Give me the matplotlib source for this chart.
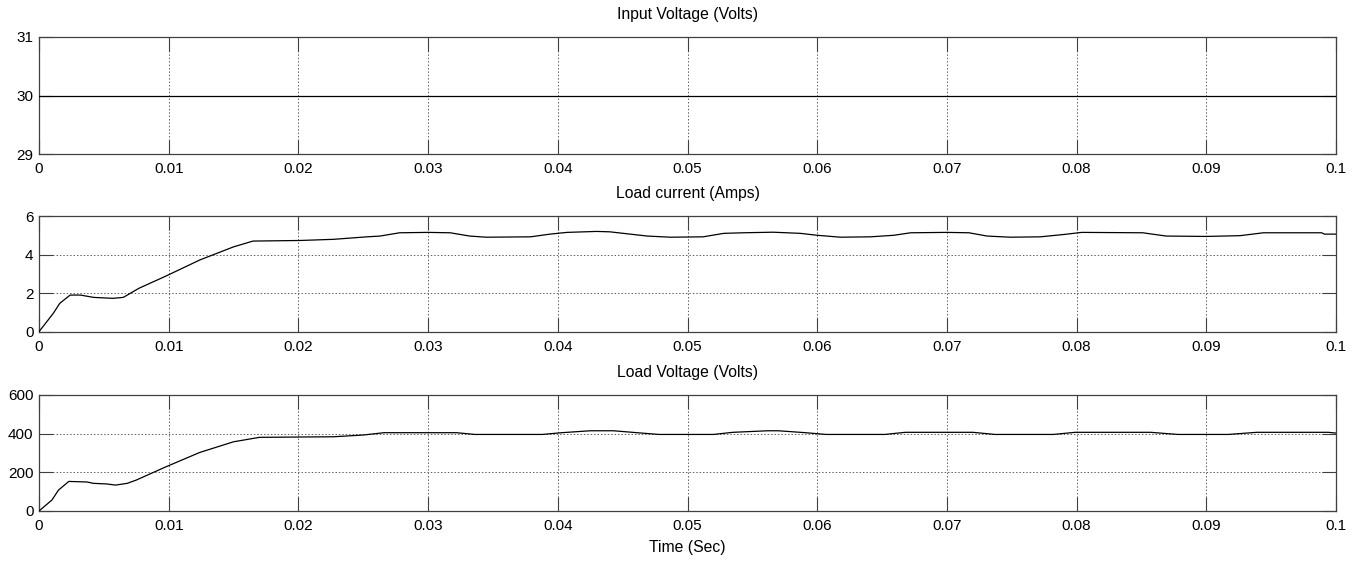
import numpy as np
import matplotlib.pyplot as plt

plt.rcParams['font.family'] = ['Liberation Sans', 'DejaVu Sans']
plt.rcParams['font.size'] = 10

# input voltage (constant)
t_in = [0.0, 0.1]
v_in = [30, 30]

# load current (A)
t_i = [0.0, 0.0011, 0.0016, 0.0024, 0.0032, 0.0042, 0.0057, 0.0065, 0.0077, 0.0098,
       0.0124, 0.0150, 0.0165, 0.0201, 0.0227, 0.0253, 0.0263, 0.0278, 0.0300, 0.0317,
       0.0332, 0.0345, 0.0379, 0.0394, 0.0407, 0.0430, 0.0440, 0.0469, 0.0487, 0.0512,
       0.0528, 0.0543, 0.0566, 0.0587, 0.0600, 0.0618, 0.0641, 0.0659, 0.0672, 0.0700,
       0.0717, 0.0731, 0.0749, 0.0772, 0.0790, 0.0804, 0.0851, 0.0869, 0.0900, 0.0926,
       0.0944, 0.0989, 0.0991, 0.1]
i_load = [0.0, 0.95, 1.47, 1.90, 1.90, 1.78, 1.73, 1.78, 2.25, 2.89,
          3.72, 4.40, 4.70, 4.73, 4.79, 4.92, 4.96, 5.13, 5.15, 5.13,
          4.96, 4.90, 4.92, 5.06, 5.15, 5.20, 5.18, 4.96, 4.90, 4.92,
          5.10, 5.13, 5.16, 5.10, 5.00, 4.90, 4.92, 5.00, 5.13, 5.15,
          5.13, 4.96, 4.90, 4.92, 5.04, 5.15, 5.13, 4.96, 4.94, 4.98,
          5.13, 5.13, 5.06, 5.06]

# load voltage (V)
t_v = [0.0, 0.0010, 0.0015, 0.0023, 0.0037, 0.0042, 0.0052, 0.0059, 0.0068, 0.0075,
       0.0098, 0.0124, 0.0150, 0.0170, 0.0227, 0.0250, 0.0266, 0.0322, 0.0336, 0.0388,
       0.0403, 0.0425, 0.0443, 0.0461, 0.0478, 0.0520, 0.0535, 0.0562, 0.0570, 0.0591,
       0.0607, 0.0652, 0.0668, 0.0720, 0.0737, 0.0782, 0.0799, 0.0857, 0.0878, 0.0917,
       0.0939, 0.0994, 0.1]
v_load = [0, 57, 108, 153, 150, 143, 140, 134, 143, 160,
          229, 303, 358, 381, 384, 393, 405, 405, 396, 396,
          405, 415, 415, 405, 396, 396, 407, 415, 415, 405,
          396, 396, 407, 407, 396, 396, 407, 407, 396, 396,
          407, 407, 403]

x_ticks = [0, 0.01, 0.02, 0.03, 0.04, 0.05, 0.06, 0.07, 0.08, 0.09, 0.1]
x_labels = ['0', '0.01', '0.02', '0.03', '0.04', '0.05', '0.06', '0.07', '0.08', '0.09', '0.1']

fig = plt.figure(figsize=(13.61, 5.61), dpi=100)
left, width = 39 / 1361, 1297 / 1361
ax1 = fig.add_axes([left, 1 - 154 / 561, width, 117 / 561])
ax2 = fig.add_axes([left, 1 - 331.7 / 561, width, 115.7 / 561])
ax3 = fig.add_axes([left, 1 - 511 / 561, width, 116 / 561])

panels = [
    (ax1, t_in, v_in, 'Input Voltage (Volts)', (29, 31), [29, 30, 31]),
    (ax2, t_i, i_load, 'Load current (Amps)', (0, 6), [0, 2, 4, 6]),
    (ax3, t_v, v_load, 'Load Voltage (Volts)', (0, 600), [0, 200, 400, 600]),
]

for ax, x, y, title, ylim, yt in panels:
    ax.plot(x, y, color='black', lw=0.9, zorder=3)
    ax.set_xlim(0, 0.1)
    ax.set_ylim(*ylim)
    ax.set_xticks(x_ticks)
    ax.set_xticklabels(x_labels)
    ax.set_yticks(yt)
    ax.set_title(title, fontsize=11.3, pad=13)
    ax.grid(True, linestyle=(0, (1.5, 2)), color='#606060', lw=0.7)
    ax.tick_params(direction='in', length=10, width=0.8, color='#404040',
                   top=True, right=True, labelsize=11, pad=6)
    ax.tick_params(axis='y', pad=4)
    for s in ax.spines.values():
        s.set_color('#404040')
        s.set_linewidth(0.9)

ax3.set_xlabel('Time (Sec)', fontsize=11.3, labelpad=5)

fig.savefig('out.png', dpi=100)
